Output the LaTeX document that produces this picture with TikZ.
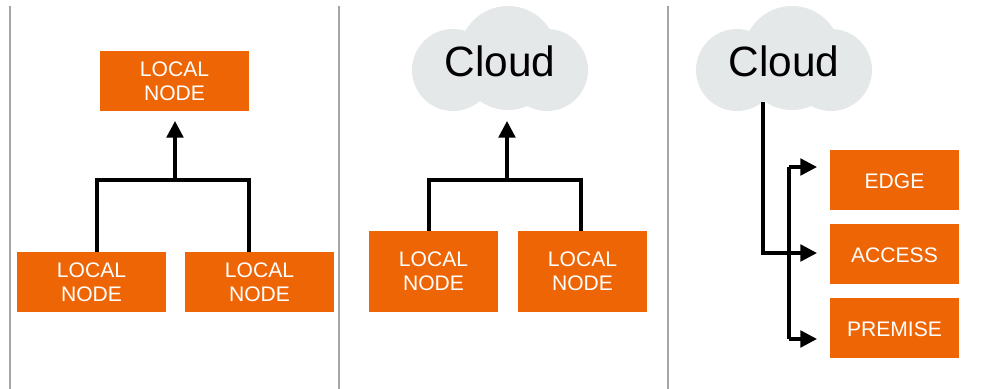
\documentclass[tikz,border=0pt]{standalone}
\usepackage{fontspec}
\setmainfont{Liberation Sans}
\usetikzlibrary{arrows.meta}

\definecolor{nodeorange}{RGB}{238,101,5}
\definecolor{cloudgrey}{RGB}{229,232,233}
\definecolor{rulegrey}{RGB}{166,166,166}

\newcommand{\cloudshape}{
	\fill [cloudgrey] (-55,0) circle (41) (39,0) circle (41) (0,-15) circle (49) (0,-8) circle (48);
}

\tikzset{
	orangebox/.style={fill=nodeorange,text=white,inner sep=0pt,align=center,font=\fontsize{15.8}{18}\selectfont,execute at begin node={\rule{0pt}{13.4pt}}},
	localbox/.style={orangebox,execute at begin node={\rule{0pt}{15pt}}},
	cloudtext/.style={inner sep=0pt,font=\fontsize{31.8}{36}\selectfont},
	wire/.style={line width=2.5pt,black},
	flow/.style={wire,-{Triangle[length=12.5pt,width=12.5pt]}},
	divider/.style={line width=1.5pt,rulegrey}
}

\begin{document}
\begin{tikzpicture}[x=0.75pt,y=0.75pt,yscale=-1]
	\useasboundingbox (0,0) rectangle (983,389);

	%Straight Lines: dividers
	\draw [divider] (10,6) -- (10,389);
	\draw [divider] (339,6) -- (339,389);
	\draw [divider] (668,6) -- (668,389);

	%Shape: Rectangle, first panel
	\node (toplocal) [localbox,minimum width=111.75pt,minimum height=45pt] at (174.5,81) {LOCAL\\NODE};
	\node (leftlocal) [localbox,minimum width=111.75pt,minimum height=45pt] at (91.5,282) {LOCAL\\NODE};
	\node (rightlocal) [localbox,minimum width=111.75pt,minimum height=45pt] at (259.5,282) {LOCAL\\NODE};
	%Straight Lines
	\coordinate (busa) at (97,180);
	\coordinate (busb) at (249,180);
	\coordinate (tiptop) at (175,121);
	\draw [wire] (leftlocal.north -| busa) -- (busa) -- (busb) -- (rightlocal.north -| busb);
	\draw [flow] (busa -| tiptop) -- (tiptop);

	%Shape: Cloud, second panel
	\begin{scope}[shift={(508,70)}]
		\cloudshape
	\end{scope}
	\node (cloudmid) [cloudtext] at (500,61) {Cloud};
	\node (leftmid) [localbox,minimum width=96.75pt,minimum height=60.75pt] at (433.5,271.5) {LOCAL\\NODE};
	\node (rightmid) [localbox,minimum width=96.75pt,minimum height=60.75pt] at (582.5,271.5) {LOCAL\\NODE};
	%Straight Lines
	\coordinate (busc) at (429,180);
	\coordinate (busd) at (581,180);
	\coordinate (tipmid) at (507,121);
	\draw [wire] (leftmid.north -| busc) -- (busc) -- (busd) -- (rightmid.north -| busd);
	\draw [flow] (busc -| tipmid) -- (tipmid);

	%Shape: Cloud, third panel
	\begin{scope}[shift={(792,70)}]
		\cloudshape
	\end{scope}
	\node (cloudright) [cloudtext] at (784,61) {Cloud};
	\node (edge) [orangebox,minimum width=96.75pt,minimum height=45pt] at (894.5,180) {EDGE};
	\node (access) [orangebox,minimum width=96.75pt,minimum height=45pt] at (894.5,254) {ACCESS};
	\node (premise) [orangebox,minimum width=96.75pt,minimum height=45pt] at (894.5,328) {PREMISE};
	%Straight Lines
	\coordinate (trunk) at (763,102);
	\coordinate (edgetip) at (817,167);
	\coordinate (accesstip) at (817,253);
	\coordinate (premisetip) at (817,339);
	\coordinate (branch) at (789,253);
	\draw [flow] (trunk) |- (accesstip);
	\draw [flow] (branch |- edgetip) -- (edgetip);
	\draw [flow] (branch |- premisetip) -- (premisetip);
	\draw [wire] (branch |- edgetip) -- (branch |- premisetip);
\end{tikzpicture}
\end{document}
